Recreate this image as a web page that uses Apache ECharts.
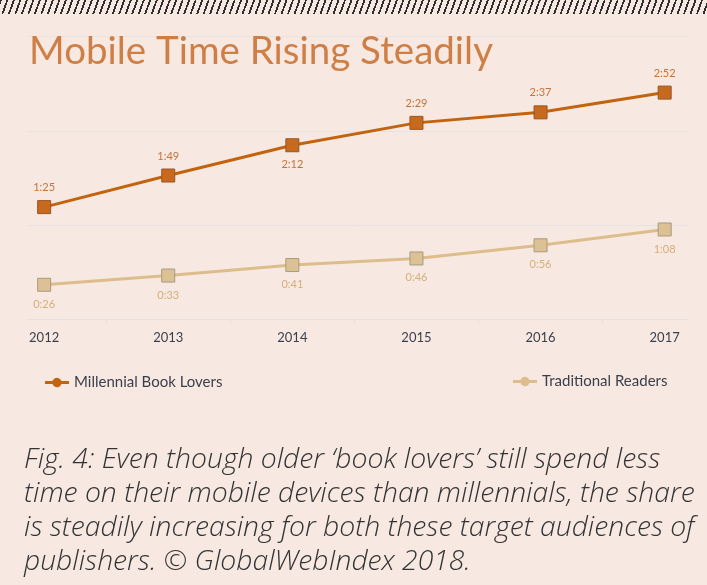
<!DOCTYPE html>
<html lang="en">
<head>
    <meta charset="UTF-8">
    <title>Mobile Time Rising Steadily</title>
    <script src="https://cdn.jsdelivr.net/npm/echarts@6.0.0/dist/echarts.min.js"></script>
    <style>
        html, body { margin: 0; padding: 0; background: #f7e9e1; }
        #wrap { position: relative; width: 707px; height: 585px; }
        #hatch {
            position: absolute; left: 0; top: 0; width: 707px; height: 14px; z-index: 2;
            background: repeating-linear-gradient(110deg, #2f2f2f 0, #2f2f2f 1.8px, transparent 1.8px, transparent 6.1px);
        }
        #chart { position: absolute; left: 0; top: 0; width: 707px; height: 585px; }
    </style>
</head>
<body>
<div id="wrap">
    <div id="hatch"></div>
    <div id="chart"></div>
</div>
<script>
    // minutes per day on mobile
    const years = [2012, 2013, 2014, 2015, 2016, 2017];
    const millennial = [85, 109, 132, 149, 157, 172];
    const traditional = [26, 33, 41, 46, 56, 68];
    const millennialBelow = [2014];

    function hm(min) {
        const m = min % 60;
        return Math.floor(min / 60) + ':' + (m < 10 ? '0' : '') + m;
    }

    const legendIcon = 'path://M0,4H8.2A5,5,0,0,1,17.8,4H26V7H17.8A5,5,0,0,1,8.2,7H0Z';

    echarts.init(document.getElementById('chart')).setOption({
        backgroundColor: '#f7e9e1',
        title: [{
            text: 'Mobile Time Rising Steadily',
            left: 24,
            top: 27,
            textStyle: {fontFamily: 'Lato', fontWeight: 'normal', fontSize: 38.5, color: '#cf7f45'}
        }, {
            text: 'Fig. 4: Even though older \u2018book lovers\u2019 still spend less\n' +
                'time on their mobile devices than millennials, the share\n' +
                'is steadily increasing for both these target audiences of\n' +
                'publishers. \u00a9 GlobalWebIndex 2018.',
            left: 19,
            top: 438,
            textStyle: {
                fontFamily: 'Open Sans', fontStyle: 'italic', fontWeight: 300,
                fontSize: 28.3, lineHeight: 34, color: '#333333'
            }
        }],
        legend: [{
            left: 40, top: 370, itemWidth: 24, itemHeight: 10,
            data: [{name: 'Millennial Book Lovers', icon: legendIcon, itemStyle: {color: '#c2640f', borderWidth: 0}}],
            textStyle: {fontFamily: 'Lato', fontSize: 15, color: '#3a3e4c'}
        }, {
            left: 508, top: 369, itemWidth: 24, itemHeight: 10,
            data: [{name: 'Traditional Readers', icon: legendIcon, itemStyle: {color: '#dcbd8b', borderWidth: 0}}],
            textStyle: {fontFamily: 'Lato', fontSize: 15, color: '#3a3e4c'}
        }],
        grid: {left: 28, right: 20, top: 36, bottom: 266, containLabel: false},
        xAxis: {
            type: 'value',
            min: 2011.87,
            max: 2017.18,
            axisLine: {show: true, lineStyle: {color: '#e4e1e0', width: 1}},
            axisTick: {show: true, length: 4, customValues: years.slice(1).map(y => y - 0.5), lineStyle: {color: '#e4e1e0'}},
            axisLabel: {
                customValues: years,
                formatter: v => String(v),
                margin: 12,
                fontFamily: 'Lato', fontSize: 13, color: '#3b3f4d'
            },
            splitLine: {show: false}
        },
        yAxis: {
            type: 'value',
            min: 0,
            max: 215,
            interval: 71.5,
            axisLine: {show: false},
            axisTick: {show: false},
            axisLabel: {show: false},
            splitLine: {show: true, showMaxLine: false, lineStyle: {color: '#e6e3e3', width: 1}}
        },
        series: [{
            name: 'Millennial Book Lovers',
            type: 'line',
            symbol: 'rect',
            symbolSize: 13,
            lineStyle: {color: '#c2640f', width: 3},
            itemStyle: {color: '#c86a1e', borderColor: '#9a5428', borderWidth: 1},
            label: {
                show: true, position: 'top', distance: 7,
                fontFamily: 'Lato', fontSize: 11, color: '#c4733b',
                formatter: p => hm(p.value[1])
            },
            data: years.map((y, i) => millennialBelow.includes(y)
                ? {value: [y, millennial[i]], label: {position: 'bottom'}}
                : [y, millennial[i]])
        }, {
            name: 'Traditional Readers',
            type: 'line',
            symbol: 'rect',
            symbolSize: 13,
            lineStyle: {color: '#dcbd8b', width: 3},
            itemStyle: {color: '#dbc193', borderColor: '#a99a80', borderWidth: 1},
            label: {
                show: true, position: 'bottom', distance: 7,
                fontFamily: 'Lato', fontSize: 11, color: '#d4ae7a',
                formatter: p => hm(p.value[1])
            },
            data: years.map((y, i) => [y, traditional[i]])
        }]
    });
</script>
</body>
</html>
